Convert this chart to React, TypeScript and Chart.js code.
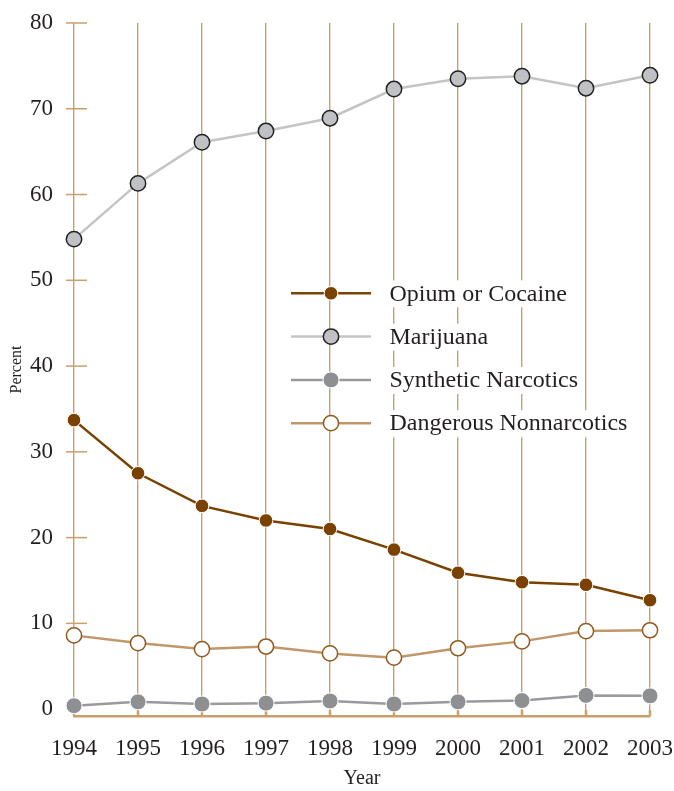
import React, { useEffect, useRef } from "react";
import { Chart, registerables } from "chart.js";

Chart.register(...registerables);

const years = ["1994", "1995", "1996", "1997", "1998", "1999", "2000", "2001", "2002", "2003"];
const opiumCocaine = [33.7, 27.5, 23.7, 22.0, 21.0, 18.6, 15.9, 14.8, 14.5, 12.7];
const marijuana = [54.8, 61.3, 66.1, 67.4, 68.9, 72.3, 73.5, 73.8, 72.4, 73.9];
const syntheticNarcotics = [0.4, 0.85, 0.6, 0.7, 0.95, 0.6, 0.85, 1.0, 1.6, 1.55];
const dangerousNonnarcotics = [8.6, 7.7, 7.0, 7.3, 6.5, 6.0, 7.1, 7.9, 9.1, 9.2];
const yTickValues = [0, 10, 20, 30, 40, 50, 60, 70, 80];

const TAN = "#c99f6c";
const TEXT = "#231f20";
const FONT = "'Liberation Serif', 'Times New Roman', serif";

const decorPlugin = {
  id: "decor",
  beforeDatasetsDraw(chart: any) {
    const { ctx, chartArea, scales } = chart;
    const y = scales.y;
    const x = scales.x;
    ctx.save();
    ctx.strokeStyle = TAN;
    ctx.lineWidth = 1.5;
    yTickValues.forEach((v) => {
      if (v === 0) return;
      const py = y.getPixelForValue(v);
      ctx.beginPath();
      ctx.moveTo(chartArea.left - 8, py);
      ctx.lineTo(chartArea.left + 13, py);
      ctx.stroke();
    });
    ctx.lineWidth = 2.5;
    years.forEach((_, i) => {
      const px = x.getPixelForValue(i);
      ctx.beginPath();
      ctx.moveTo(px, chartArea.bottom - 6);
      ctx.lineTo(px, chartArea.bottom);
      ctx.stroke();
    });
    ctx.restore();
  },
  afterDatasetsDraw(chart: any) {
    const { ctx } = chart;
    const startY = 293.3;
    const stepY = 43.3;
    const lineX0 = 291;
    const lineX1 = 371;
    const markX = 331;
    const textX = 389.5;
    ctx.save();
    ctx.font = `24px ${FONT}`;
    chart.data.datasets.forEach((ds: any, i: number) => {
      const ry = startY + i * stepY;
      const w = ctx.measureText(ds.label).width;
      ctx.fillStyle = "#ffffff";
      ctx.fillRect(textX - 6, ry - 13, w + 12, 27);
      ctx.strokeStyle = ds.borderColor;
      ctx.lineWidth = ds.borderWidth;
      ctx.beginPath();
      ctx.moveTo(lineX0, ry);
      ctx.lineTo(lineX1, ry);
      ctx.stroke();
      ctx.beginPath();
      ctx.arc(markX, ry, ds.pointRadius, 0, Math.PI * 2);
      ctx.fillStyle = ds.pointBackgroundColor;
      ctx.fill();
      ctx.lineWidth = ds.pointBorderWidth;
      ctx.strokeStyle = ds.pointBorderColor;
      ctx.stroke();
      ctx.fillStyle = TEXT;
      ctx.textAlign = "left";
      ctx.textBaseline = "middle";
      ctx.fillText(ds.label, textX, ry + 1);
    });
    ctx.restore();
  },
};

export default function App() {
  const ref = useRef<HTMLCanvasElement | null>(null);
  useEffect(() => {
    document.body.style.margin = "0";
    const canvas = ref.current;
    if (!canvas) return;
    const chart = new Chart(canvas, {
      type: "line",
      data: {
        labels: years,
        datasets: [
          {
            label: "Opium or Cocaine",
            data: opiumCocaine,
            borderColor: "#7a4100",
            borderWidth: 2.5,
            pointBackgroundColor: "#7a4100",
            pointBorderColor: "#ffffff",
            pointBorderWidth: 1,
            pointRadius: 6.8,
          },
          {
            label: "Marijuana",
            data: marijuana,
            borderColor: "#c4c4c4",
            borderWidth: 2.5,
            pointBackgroundColor: "#c0c1c4",
            pointBorderColor: "#222222",
            pointBorderWidth: 1.5,
            pointRadius: 7.7,
          },
          {
            label: "Synthetic Narcotics",
            data: syntheticNarcotics,
            borderColor: "#9a9a9e",
            borderWidth: 2.5,
            pointBackgroundColor: "#8e8f93",
            pointBorderColor: "#ffffff",
            pointBorderWidth: 1,
            pointRadius: 8,
          },
          {
            label: "Dangerous Nonnarcotics",
            data: dangerousNonnarcotics,
            borderColor: "#c0976a",
            borderWidth: 2.5,
            pointBackgroundColor: "#ffffff",
            pointBorderColor: "#8f5a1c",
            pointBorderWidth: 1.5,
            pointRadius: 7.6,
          },
        ],
      },
      options: {
        responsive: false,
        animation: false,
        layout: { padding: { top: 23, right: 24, left: 0, bottom: 0 } },
        plugins: {
          legend: { display: false },
          tooltip: { enabled: false },
        },
        scales: {
          x: {
            type: "category",
            offset: false,
            grid: {
              display: true,
              drawOnChartArea: true,
              drawTicks: true,
              tickLength: 19,
              tickColor: "rgba(0,0,0,0)",
              color: TAN,
              lineWidth: 1.4,
            },
            border: { display: true, color: TAN, width: 2.5 },
            ticks: {
              autoSkip: false,
              maxRotation: 0,
              padding: 0,
              color: TEXT,
              font: { family: FONT, size: 23 },
            },
            title: {
              display: true,
              text: "Year",
              color: TEXT,
              font: { family: FONT, size: 20 },
              padding: { top: 0, bottom: 0 },
            },
            afterFit: (s: any) => {
              s.height = 75;
            },
          },
          y: {
            min: -0.8,
            max: 80,
            grid: {
              display: true,
              drawOnChartArea: false,
              drawTicks: true,
              tickLength: 21,
              tickColor: "rgba(0,0,0,0)",
              color: "rgba(0,0,0,0)",
            },
            border: { display: false },
            afterBuildTicks: (s: any) => {
              s.ticks = yTickValues.map((v) => ({ value: v }));
            },
            ticks: {
              padding: 0,
              color: TEXT,
              font: { family: FONT, size: 23 },
            },
            title: {
              display: true,
              text: "Percent",
              color: TEXT,
              font: { family: FONT, size: 16 },
              padding: { top: 7, bottom: 0 },
            },
            afterFit: (s: any) => {
              s.width = 74;
            },
          },
        },
      },
      plugins: [decorPlugin],
    } as any);
    return () => chart.destroy();
  }, []);
  return <canvas ref={ref} width={674} height={791} style={{ display: "block" }} />;
}
